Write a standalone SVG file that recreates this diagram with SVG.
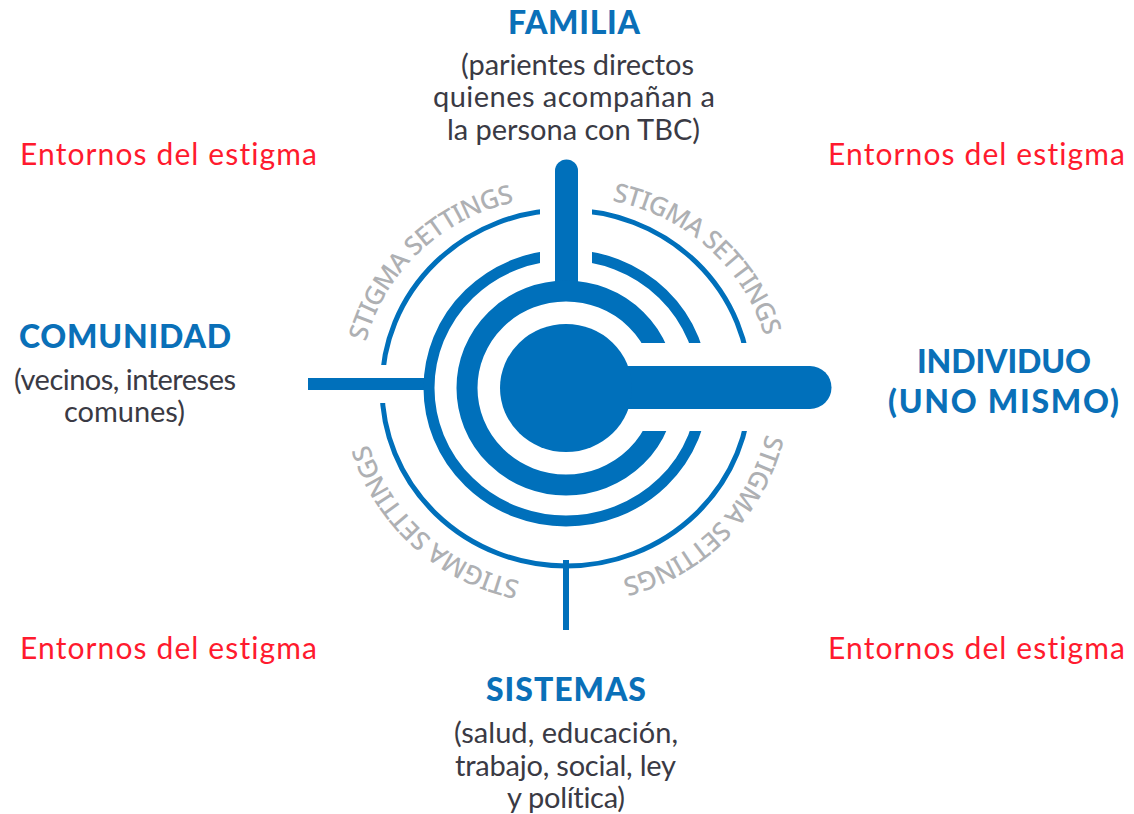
<svg xmlns="http://www.w3.org/2000/svg" width="1134" height="814" viewBox="0 0 1134 814">
<style>
text{font-family:"Lato","Noto Sans",sans-serif;font-variant-ligatures:none}
.h{fill:#0a70b8;font-size:32px;font-weight:900}
.b{fill:#3a3a44;font-size:29px}
.r{fill:#ff1a2e;font-size:30px}
.s{fill:#aeb0b3;font-size:26px;font-weight:500;font-family:"Noto Sans",sans-serif}
.ring{fill:none;stroke:#0070bb}
.bar{fill:#0070bb}
</style>
<defs>
<clipPath id="c1"><path clip-rule="evenodd" d="M0 0H1134V814H0Z M566 343H1134V431H566Z"/></clipPath>
<clipPath id="c2"><path clip-rule="evenodd" d="M0 0H1134V814H0Z M566 343H1134V431H566Z M540 0H592V320H540Z"/></clipPath>
<clipPath id="c3"><path clip-rule="evenodd" d="M0 0H1134V814H0Z M566 343H1134V431H566Z M540 0H592V320H540Z M0 365H420V403H0Z"/></clipPath>
<path id="a1" d="M366 342A200 192 0 0 1 520 201"/>
<path id="a2" d="M612 201A200 192 0 0 1 766 342"/>
<path id="a3" d="M766 434A200 198 0 0 1 612 581"/>
<path id="a4" d="M520 581A200 198 0 0 1 366 434"/>
</defs>
<g id="connectors">
<rect class="bar" x="308" y="378" width="120" height="12"/>
<rect class="bar" x="563" y="560" width="6" height="70"/>
<path class="bar" d="M555 300V171A11.500 11.500 0 0 1 578 171V300Z"/>
<path class="bar" d="M600 366H810A21.500 21.500 0 0 1 810 409H600Z"/>
</g>
<g id="target">
<ellipse class="ring" clip-path="url(#c3)" cx="566" cy="388" rx="184" ry="178" stroke-width="5"/>
<ellipse class="ring" clip-path="url(#c2)" cx="566" cy="388" rx="137" ry="133" stroke-width="11"/>
<ellipse class="ring" clip-path="url(#c1)" cx="566" cy="388" rx="99" ry="97" stroke-width="21"/>
<ellipse class="bar" cx="566" cy="388" rx="66" ry="64"/>
</g>
<g id="stigma-settings">
<text class="s"><textPath href="#a1" textLength="214" lengthAdjust="spacing">STIGMA SETTINGS</textPath></text>
<text class="s"><textPath href="#a2" textLength="214" lengthAdjust="spacing">STIGMA SETTINGS</textPath></text>
<text class="s"><textPath href="#a3" textLength="214" lengthAdjust="spacing">STIGMA SETTINGS</textPath></text>
<text class="s"><textPath href="#a4" textLength="214" lengthAdjust="spacing">STIGMA SETTINGS</textPath></text>
</g>
<g id="familia">
<text class="h" x="508" y="34" textLength="132">FAMILIA</text>
<text class="b" x="461" y="75" textLength="233">(parientes directos</text>
<text class="b" x="433" y="107" textLength="282">quienes acompañan a</text>
<text class="b" x="447" y="140" textLength="253">la persona con TBC)</text>
</g>
<g id="comunidad">
<text class="h" x="19" y="348" textLength="212">COMUNIDAD</text>
<text class="b" x="14" y="390" textLength="222">(vecinos, intereses</text>
<text class="b" x="64" y="422" textLength="121">comunes)</text>
</g>
<g id="individuo">
<text class="h" x="917" y="373" textLength="174">INDIVIDUO</text>
<text class="h" x="888" y="413" textLength="231">(UNO MISMO)</text>
</g>
<g id="sistemas">
<text class="h" x="486" y="701" textLength="160">SISTEMAS</text>
<text class="b" x="454" y="743" textLength="224">(salud, educación,</text>
<text class="b" x="455" y="776" textLength="221">trabajo, social, ley</text>
<text class="b" x="507" y="808" textLength="118">y política)</text>
</g>
<g id="entornos">
<text class="r" x="20" y="165" textLength="297">Entornos del estigma</text>
<text class="r" x="828" y="165" textLength="297">Entornos del estigma</text>
<text class="r" x="20" y="659" textLength="297">Entornos del estigma</text>
<text class="r" x="828" y="659" textLength="297">Entornos del estigma</text>
</g>
</svg>
